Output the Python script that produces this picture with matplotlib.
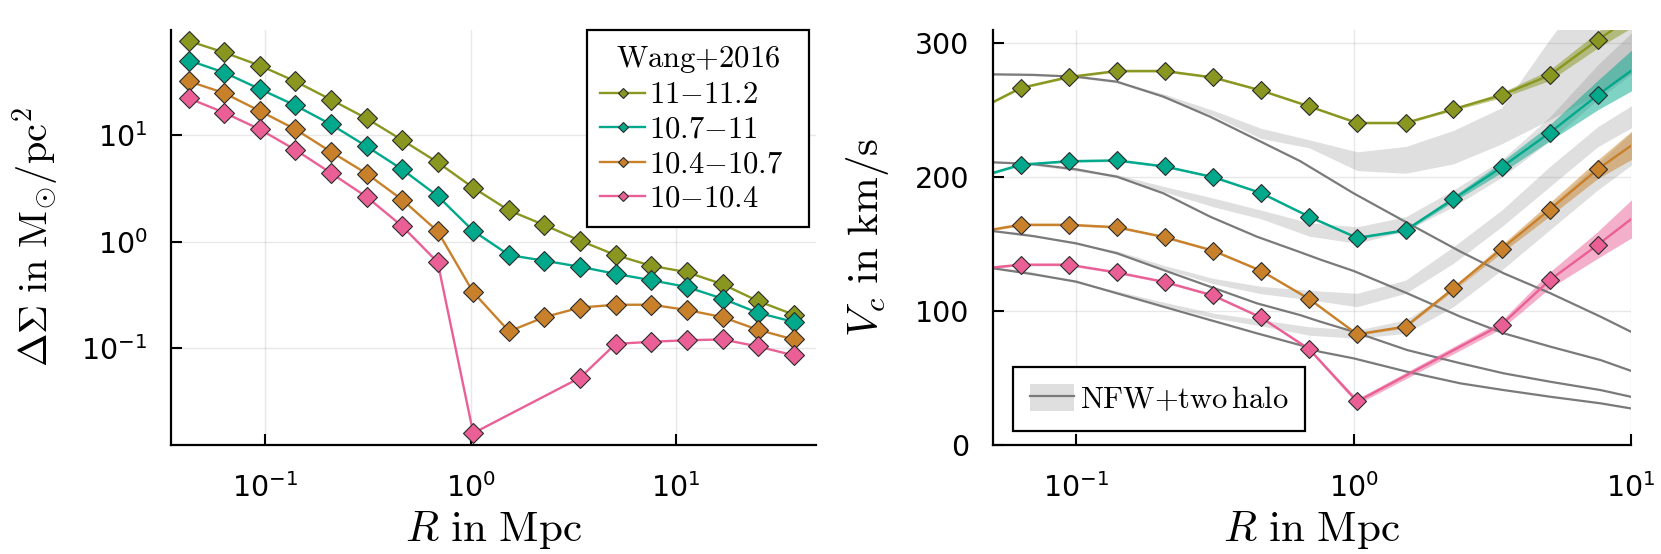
import numpy as np
import matplotlib
matplotlib.use('Agg')
import matplotlib.pyplot as plt
from matplotlib.lines import Line2D
from matplotlib.patches import Patch
from matplotlib.ticker import NullLocator

plt.rcParams['mathtext.fontset'] = 'cm'
plt.rcParams['font.family'] = ['DejaVu Sans']

nan = np.nan

# radial bins (Mpc)
r_bins = np.array([0.0425, 0.0629, 0.0938, 0.140, 0.208, 0.311, 0.463, 0.691, 1.03,
                   1.54, 2.29, 3.42, 5.09, 7.59, 11.3, 16.9, 25.2, 37.5])

labels = [r'$\mathrm{11{-}11.2}$', r'$\mathrm{10.7{-}11}$',
          r'$\mathrm{10.4{-}10.7}$', r'$\mathrm{10{-}10.4}$']
colors = ['#89961f', '#00a88c', '#c8812a', '#ea6096']

# Delta Sigma in Msun/pc^2 (Wang+2016)
ds_olive = [75.9, 59.4, 44.8, 31.8, 21.5, 14.3, 8.98, 5.54, 3.20, 1.96, 1.43, 1.02,
            0.748, 0.594, 0.518, 0.399, 0.277, 0.207]
ds_teal = [49.9, 38.5, 27.0, 18.9, 12.6, 7.83, 4.77, 2.68, 1.26, 0.748, 0.662, 0.581,
           0.499, 0.435, 0.376, 0.292, 0.215, 0.177]
ds_orange = [31.8, 24.7, 16.8, 11.3, 6.98, 4.35, 2.48, 1.25, 0.335, 0.144, 0.196, 0.241,
             0.256, 0.256, 0.229, 0.196, 0.149, 0.121]
ds_pink = [22.0, 16.2, 11.3, 7.25, 4.41, 2.63, 1.40, 0.641, 0.0160, nan, nan, 0.0530,
           0.110, 0.115, 0.119, 0.121, 0.104, 0.0859]

# circular velocity in km/s (first 15 bins)
vc_olive = [248.7, 266.7, 274.9, 279.4, 279.4, 274.6, 264.9, 253.0, 240.6, 240.6, 250.9,
            261.4, 276.2, 302.6, 327.0]
vc_teal = [198.9, 209.4, 212.0, 212.6, 208.1, 200.2, 188.3, 170.6, 154.7, 160.5, 183.8,
           207.6, 233.2, 261.4, 287.5]
vc_orange = [158.6, 164.5, 164.5, 162.7, 155.3, 145.2, 130.2, 109.1, 82.7, 88.5, 117.0,
             146.6, 175.9, 206.0, 231.3]
vc_pink = [131.2, 134.7, 134.7, 128.9, 121.8, 111.7, 95.3, 71.6, 32.5, nan, nan,
           90.0, 123.1, 149.5, 177.1]

err_olive = [0.8, 0.8, 0.8, 0.8, 0.8, 0.8, 0.8, 0.8, 0.8, 0.8, 1, 2, 4, 6, 9]
err_teal = [0.8, 0.8, 0.8, 0.8, 0.8, 0.8, 0.8, 0.8, 0.8, 1, 2, 4, 6, 11, 17]
err_orange = [0.8, 0.8, 0.8, 0.8, 0.8, 0.8, 0.8, 0.8, 0.8, 1, 1.5, 3, 5, 7, 12]
err_pink = [0.8, 0.8, 0.8, 0.8, 0.8, 0.8, 0.8, 1, 2, nan, nan, 3, 6, 10, 16]

# NFW curves
r_nfw = [0.05, 0.07, 0.1, 0.14, 0.206, 0.304, 0.448, 0.642, 0.758, 1.0, 1.56, 2.43,
         3.48, 5.13, 7.78, 10.0]
nfw_1 = [276.9, 276.5, 275.1, 271.4, 260.2, 245.2, 228, 212, 203, 188, 166, 144.4,
         128.2, 113.3, 95.8, 84.6]
nfw_2 = [211.2, 209.8, 205.9, 200.4, 188.0, 170.5, 155.6, 144, 138.5, 130, 113.3, 95.8,
         83.4, 73.4, 63.4, 55.4]
nfw_3 = [159.8, 156, 150.6, 143.2, 130.7, 118.2, 105.8, 97, 92.1, 84.6, 70.9, 61.0,
         53.5, 47.2, 41.0, 36.0]
nfw_4 = [132.0, 127.5, 122.0, 113.3, 103.3, 93.3, 83.4, 74.6, 69.6, 64.7, 54.7, 46.0,
         41.0, 36.0, 31.1, 27.3]

# NFW + two halo bands (on the first 15 bins)
band1_lo = [276.9, 276, 275, 270.5, 259.5, 246, 229, 222, 205, 203, 210, 225, 243, 262, 285]
band1_hi = [277.5, 277, 276, 272, 262, 250, 236.6, 228, 219, 223, 235, 252, 303, 350, 390]
band2_lo = [211, 210, 205.5, 200, 189, 178, 169, 156, 150.6, 160, 178, 200, 227, 258, 285]
band2_hi = [212, 211, 206.5, 202, 193, 184.5, 175.5, 166, 163, 170.5, 190.5, 213, 245, 284, 318]
band3_lo = [160, 158, 151, 143.5, 131.5, 120.5, 113, 108.5, 103.3, 113.3, 135.7, 163.1, 192.9, 222.8, 243]
band3_hi = [161, 159, 152, 145, 134, 124.5, 118.5, 115.5, 113.3, 123.2, 148.1, 175.5, 207.9, 237.8, 260]
band4_lo = [133, 130, 122.5, 113.5, 104, 95, 89, 82, 79.7, 83.4, 103.3, 130.7, 160.6, 190.5, 217]
band4_hi = [134, 131, 123.5, 115, 106.5, 98.5, 93.5, 88.3, 85.9, 93.4, 115.7, 145.6, 178, 210.4, 243]

ds_all = [ds_olive, ds_teal, ds_orange, ds_pink]
vc_all = [vc_olive, vc_teal, vc_orange, vc_pink]
err_all = [err_olive, err_teal, err_orange, err_pink]
nfw_all = [nfw_1, nfw_2, nfw_3, nfw_4]
bands = [(band1_lo, band1_hi), (band2_lo, band2_hi), (band3_lo, band3_hi), (band4_lo, band4_hi)]

fig = plt.figure(figsize=(16.61, 5.54), dpi=100)
ax1 = fig.add_axes([0.1029, 0.1968, 0.3883, 0.749])
ax2 = fig.add_axes([0.5978, 0.1968, 0.3841, 0.749])

def style(ax):
    for s in ['top', 'right']:
        ax.spines[s].set_visible(False)
    for s in ['left', 'bottom']:
        ax.spines[s].set_linewidth(1.6)
    ax.tick_params(direction='in', length=8, width=1.5, labelsize=20.5)
    ax.tick_params(axis='x', pad=20)
    ax.tick_params(axis='y', pad=17)
    ax.grid(True, color='black', alpha=0.09, lw=1)
    ax.set_axisbelow(True)

# left panel
for ds, c, lab in zip(ds_all, colors, labels):
    ds = np.array(ds)
    m = ~np.isnan(ds)
    ax1.plot(r_bins[m], ds[m], '-', marker='D', ms=10, color=c, mec='#2b2b2b', mew=0.8,
             lw=1.7, label=lab)
ax1.set_xscale('log')
ax1.set_yscale('log')
ax1.set_xlim(0.0346, 48.2)
ax1.set_ylim(0.0124, 96.4)
ax1.set_xticks([0.1, 1, 10])
ax1.set_yticks([0.1, 1, 10])
ax1.xaxis.set_minor_locator(NullLocator())
ax1.yaxis.set_minor_locator(NullLocator())
style(ax1)
ax1.set_xlabel(r'$R\ \mathrm{in}\ \mathrm{Mpc}$', fontsize=31)
ax1.set_ylabel(r'$\Delta\Sigma\ \mathrm{in}\ \mathrm{M}_{\odot}/\mathrm{pc}^{2}$', fontsize=29)
ax1.xaxis.set_label_coords(0.5, -0.155)
ax1.yaxis.set_label_coords(-0.171, 0.5)
leg = ax1.legend(title=r'$\mathrm{Wang{+}2016}$', loc='upper right',
                 bbox_to_anchor=(0.6445, 0.0, 0.3445, 1.0), mode='expand',
                 borderaxespad=0, fontsize=22, title_fontsize=22, fancybox=False,
                 edgecolor='black', framealpha=1, handlelength=1.45, markerscale=0.55,
                 labelspacing=0.18, borderpad=0.45, handletextpad=0.15)
leg.get_frame().set_linewidth(1.6)

# right panel
rb = r_bins[:15]
for (lo, hi), nfw in zip(bands, nfw_all):
    ax2.fill_between(rb, lo, hi, color='gray', alpha=0.25, lw=0)
for nfw in nfw_all:
    ax2.plot(r_nfw, nfw, color='#7a7a7a', lw=1.6)
for vc, err, c in zip(vc_all, err_all, colors):
    vc = np.array(vc)
    err = np.array(err)
    m = ~np.isnan(vc)
    ax2.fill_between(rb[m], vc[m] - err[m], vc[m] + err[m], color=c, alpha=0.5, lw=0)
    ax2.plot(rb[m], vc[m], '-', marker='D', ms=9.5, color=c, mec='#2b2b2b', mew=0.8, lw=1.7)
ax2.set_xscale('log')
ax2.set_xlim(0.05, 10)
ax2.set_ylim(0, 310)
ax2.set_xticks([0.1, 1, 10])
ax2.set_yticks([0, 100, 200, 300])
ax2.xaxis.set_minor_locator(NullLocator())
style(ax2)
ax2.set_xlabel(r'$R\ \mathrm{in}\ \mathrm{Mpc}$', fontsize=31)
ax2.set_ylabel(r'$V_c\ \mathrm{in}\ \mathrm{km/s}$', fontsize=31)
ax2.xaxis.set_label_coords(0.5, -0.155)
ax2.yaxis.set_label_coords(-0.16, 0.5)
h = (Patch(facecolor='gray', alpha=0.25, lw=0), Line2D([], [], color='#7a7a7a', lw=1.6))
leg2 = ax2.legend([h], [r'$\mathrm{NFW{+}two\,halo}$'], loc='lower left',
                  bbox_to_anchor=(0.031, 0.034), borderaxespad=0, fontsize=22,
                  fancybox=False, edgecolor='black', framealpha=1, handlelength=1.45,
                  handleheight=1.0, borderpad=0.55, handletextpad=0.2)
leg2.get_frame().set_linewidth(1.6)

fig.savefig('out.png', dpi=100)
